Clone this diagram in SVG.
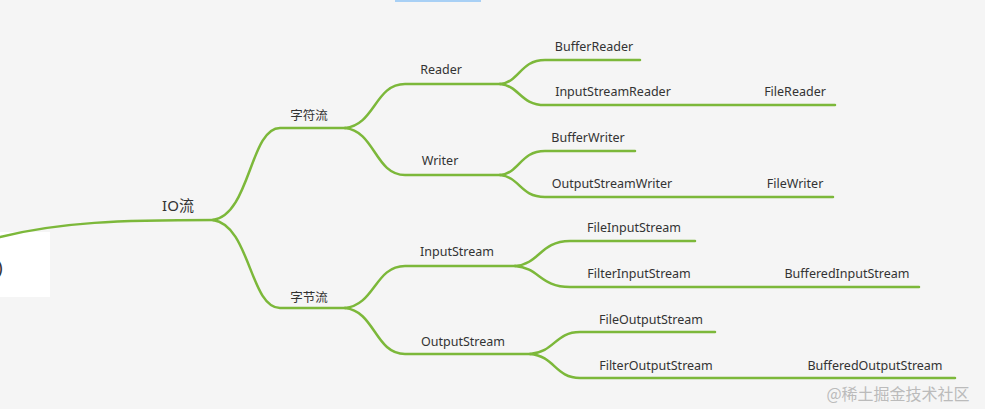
<svg xmlns="http://www.w3.org/2000/svg" width="985" height="409" viewBox="0 0 985 409">
<style>
.c{fill:none;stroke:#7cb83a;stroke-width:2.5;stroke-linecap:round}
text{font-family:"Noto Sans","Noto Sans CJK SC",sans-serif;font-size:12.5px;fill:#333;text-anchor:middle}
</style>
<rect width="985" height="409" fill="#f5f5f5"/>
<rect x="395" y="0" width="86" height="2" fill="#a8d0f5"/>
<rect x="0" y="232" width="50" height="65" fill="#fff"/>
<text x="0" y="274" style="font-size:18px">)</text>
<g id="connectors">
<path class="c" d="M0,237 C60,222 120,220 215,220"/>
<path class="c" d="M213,220 C250,215 250,128 280,128 L345,128"/>
<path class="c" d="M213,220 C250,225 250,308 280,308 L345,308"/>
<path class="c" d="M345,128 C375,125 375,84 405,84 L500,84"/>
<path class="c" d="M345,128 C375,131 375,175 405,175 L500,175"/>
<path class="c" d="M345,308 C375,305 375,266 405,266 L515,266"/>
<path class="c" d="M345,308 C375,311 375,354 405,354 L530,354"/>
<path class="c" d="M500,84 C520,82 520,60 545,60 L640,60"/>
<path class="c" d="M500,84 C520,86 520,105 545,105 L835,105"/>
<path class="c" d="M500,175 C520,173 520,151 545,151 L635,151"/>
<path class="c" d="M500,175 C520,177 520,197 545,197 L833,197"/>
<path class="c" d="M515,266 C540,264 540,241 570,241 L695,241"/>
<path class="c" d="M515,266 C540,268 540,287 570,287 L919,287"/>
<path class="c" d="M530,354 C555,352 555,332 580,332 L715,332"/>
<path class="c" d="M530,354 C555,356 555,378 580,378 L955,378"/>
</g>
<g id="io"><text x="178" y="211" style="font-size:15px">IO流</text></g>
<g id="zifu"><text x="309" y="120">字符流</text></g>
<g id="zijie"><text x="309" y="302">字节流</text></g>
<g id="reader"><text x="441" y="74">Reader</text></g>
<g id="writer"><text x="440" y="165">Writer</text></g>
<g id="inputstream"><text x="457" y="256">InputStream</text></g>
<g id="outputstream"><text x="463" y="346">OutputStream</text></g>
<g id="bufferreader"><text x="594" y="51">BufferReader</text></g>
<g id="isr"><text x="613" y="96">InputStreamReader</text></g>
<g id="filereader"><text x="795" y="96">FileReader</text></g>
<g id="bufferwriter"><text x="588" y="142">BufferWriter</text></g>
<g id="osw"><text x="612" y="188">OutputStreamWriter</text></g>
<g id="filewriter"><text x="795" y="188">FileWriter</text></g>
<g id="fis"><text x="634" y="232">FileInputStream</text></g>
<g id="filteris"><text x="639" y="278">FilterInputStream</text></g>
<g id="bis"><text x="847" y="278">BufferedInputStream</text></g>
<g id="fos"><text x="651" y="324">FileOutputStream</text></g>
<g id="filteros"><text x="656" y="370">FilterOutputStream</text></g>
<g id="bos"><text x="875" y="370">BufferedOutputStream</text></g>
<text x="898" y="400" style="font-size:16px;fill:#bbb;font-family:'Noto Sans CJK SC',serif">@稀土掘金技术社区</text>
</svg>
